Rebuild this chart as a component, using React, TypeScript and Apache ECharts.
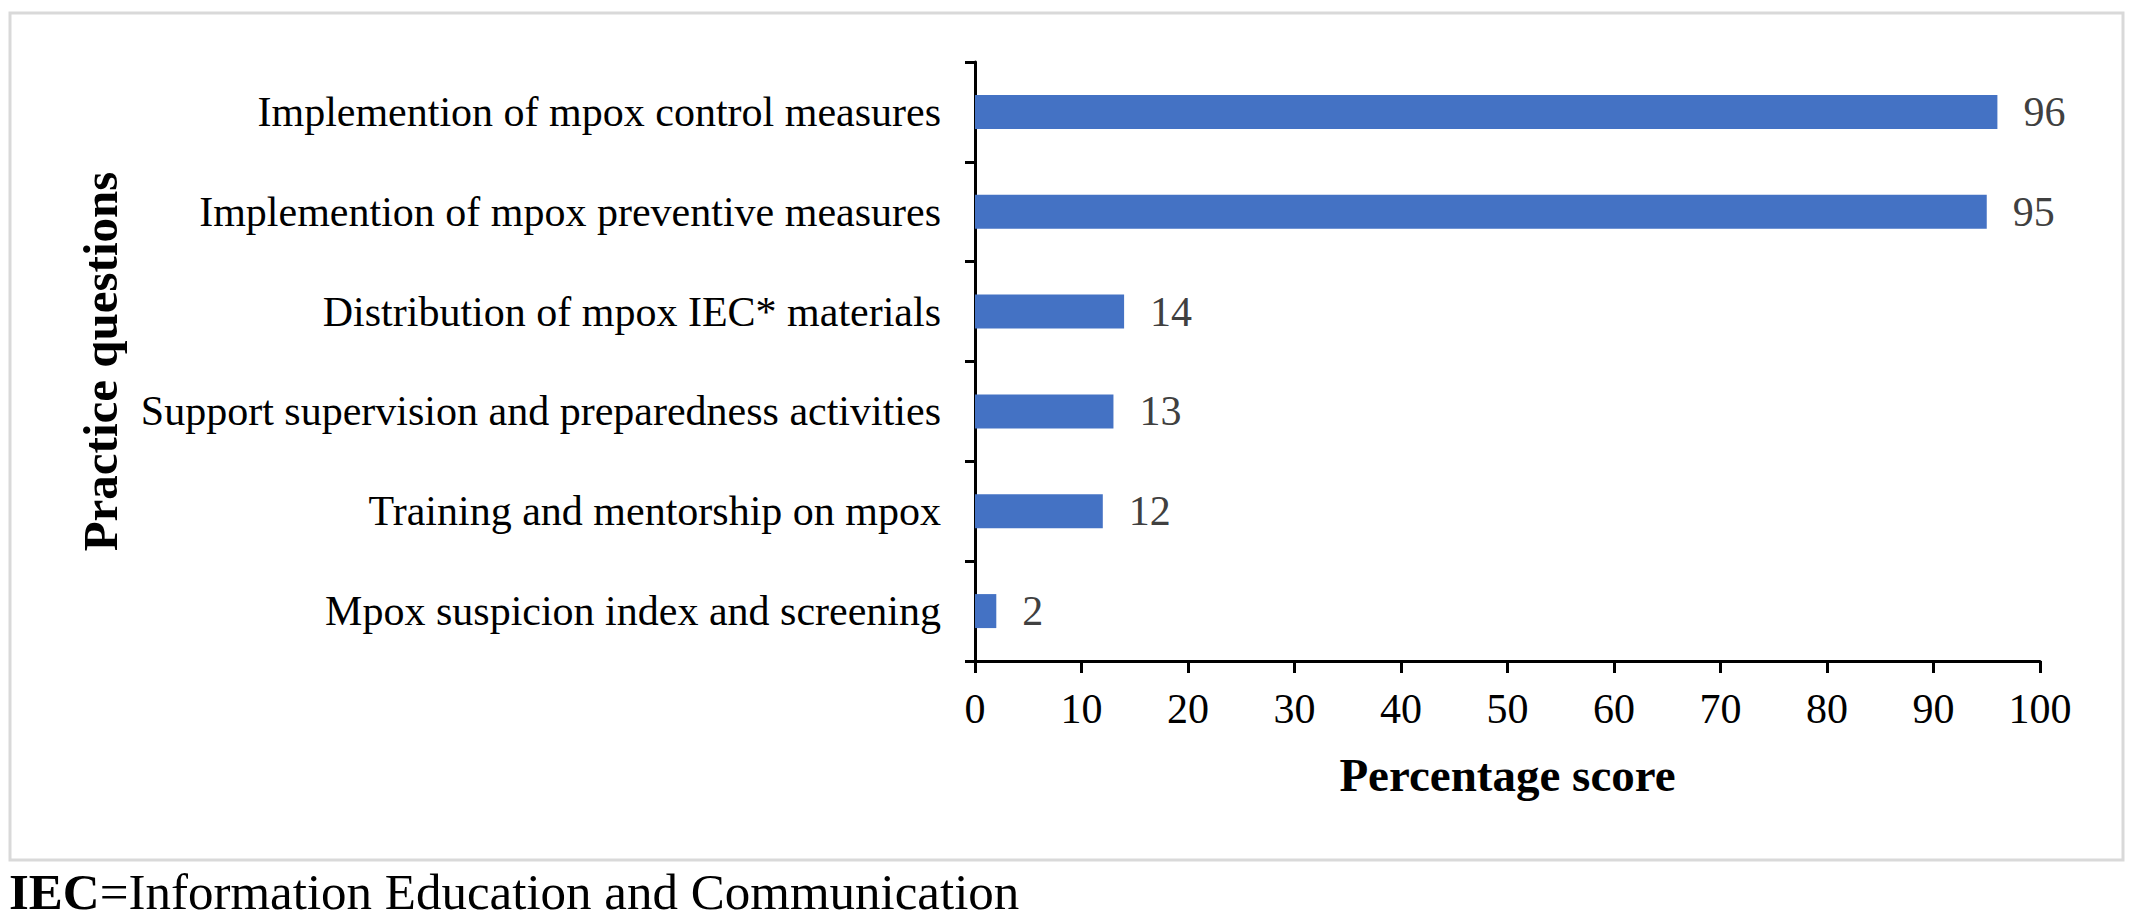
import React, { useEffect, useRef } from "react";
import * as echarts from "echarts";

const categories = [
  "Implemention of mpox control measures",
  "Implemention of mpox preventive measures",
  "Distribution of mpox IEC* materials",
  "Support supervision and preparedness activities",
  "Training and mentorship on mpox",
  "Mpox suspicion index and screening",
];
const scores = [96, 95, 14, 13, 12, 2];
const xTicks = { min: 0, max: 100, interval: 10 };

const SERIF = "'Liberation Serif', 'Times New Roman', serif";

export default function App() {
  const ref = useRef<HTMLDivElement>(null);

  useEffect(() => {
    if (!ref.current) return;
    const chart = echarts.init(ref.current, null, { renderer: "svg" });
    chart.setOption({
      animation: false,
      backgroundColor: "#ffffff",
      grid: { left: 975, right: 96, top: 62, bottom: 260, containLabel: false },
      graphic: [
        {
          type: "rect",
          shape: { x: 10, y: 13, width: 2113, height: 847 },
          style: { fill: "none", stroke: "#d9d9d9", lineWidth: 3 },
          silent: true,
        },
        {
          type: "text",
          x: 9,
          y: 866,
          style: {
            text: "{b|IEC}{r|=Information Education and Communication}",
            fill: "#000",
            rich: {
              b: { fontFamily: SERIF, fontSize: 51, fontWeight: "bold", fill: "#000", lineHeight: 52 },
              r: { fontFamily: SERIF, fontSize: 51, fill: "#000", lineHeight: 52 },
            },
          },
          silent: true,
        },
      ],
      xAxis: {
        type: "value",
        min: xTicks.min,
        max: xTicks.max,
        interval: xTicks.interval,
        name: "Percentage score",
        nameLocation: "middle",
        nameGap: 90,
        nameTextStyle: { fontFamily: SERIF, fontSize: 47, fontWeight: "bold", color: "#000" },
        axisLine: { show: true, lineStyle: { color: "#000", width: 3 } },
        axisTick: { show: true, length: 12, lineStyle: { color: "#000", width: 3 } },
        axisLabel: { fontFamily: SERIF, fontSize: 42, color: "#000", margin: 27 },
        splitLine: { show: false },
      },
      yAxis: {
        type: "category",
        data: categories,
        inverse: true,
        name: "Practice questions",
        nameLocation: "middle",
        nameGap: 850,
        nameRotate: 90,
        nameTextStyle: { fontFamily: SERIF, fontSize: 49, fontWeight: "bold", color: "#000" },
        axisLine: { show: true, lineStyle: { color: "#000", width: 3 } },
        axisTick: { show: true, length: 10, lineStyle: { color: "#000", width: 3 } },
        axisLabel: { fontFamily: SERIF, fontSize: 42, color: "#000", margin: 34 },
        splitLine: { show: false },
      },
      series: [
        {
          type: "bar",
          data: scores,
          barWidth: 34,
          itemStyle: { color: "#4472C4" },
          label: {
            show: true,
            position: "right",
            distance: 26,
            fontFamily: SERIF,
            fontSize: 42,
            color: "#404040",
          },
        },
      ],
    });
    return () => chart.dispose();
  }, []);

  return (
    <div
      ref={ref}
      style={{ position: "absolute", left: 0, top: 0, width: 2136, height: 921 }}
    />
  );
}
